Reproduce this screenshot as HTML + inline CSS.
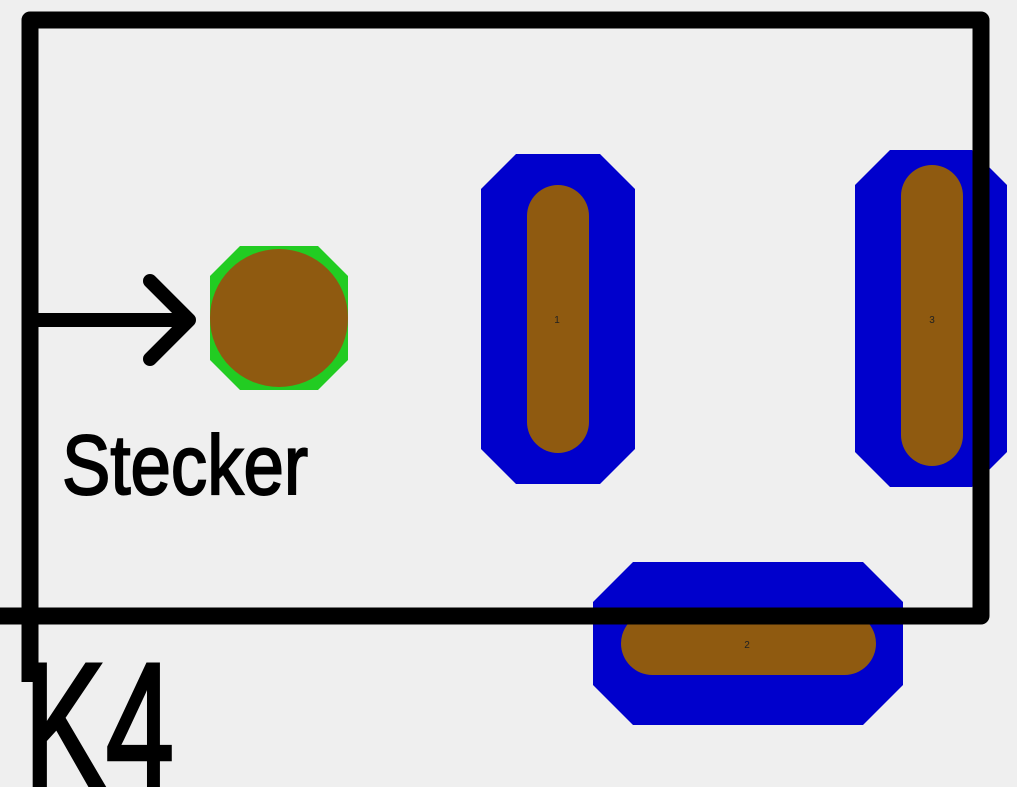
<!DOCTYPE html>
<html><head><style>
html,body{margin:0;padding:0;background:#efefef;}
svg{display:block}
</style></head><body>
<svg width="1017" height="787" viewBox="0 0 1017 787" xmlns="http://www.w3.org/2000/svg">
<rect width="1017" height="787" fill="#efefef"/>
<!-- pad 1 -->
<polygon points="516,154 600,154 635,189 635,449 600,484 516,484 481,449 481,189" fill="#0000cc"/>
<rect x="527" y="185" width="62" height="268" rx="31" fill="#8f5a10"/>
<text x="557" y="323" font-family="Liberation Sans, sans-serif" font-size="10" text-anchor="middle" fill="#222">1</text>
<!-- pad 3 -->
<polygon points="890,150 972,150 1007,185 1007,452 972,487 890,487 855,452 855,185" fill="#0000cc"/>
<rect x="901" y="165" width="62" height="301" rx="31" fill="#8f5a10"/>
<text x="932" y="323" font-family="Liberation Sans, sans-serif" font-size="10" text-anchor="middle" fill="#222">3</text>
<!-- pad 2 -->
<polygon points="633,562 863,562 903,602 903,685 863,725 633,725 593,685 593,602" fill="#0000cc"/>
<rect x="621" y="612" width="255" height="63" rx="31.5" fill="#8f5a10"/>
<text x="747" y="648" font-family="Liberation Sans, sans-serif" font-size="10" text-anchor="middle" fill="#222">2</text>
<!-- green circle pad -->
<polygon points="240,246 318,246 348,276 348,360 318,390 240,390 210,360 210,276" fill="#22cc22"/>
<circle cx="279" cy="318" r="69" fill="#8f5a10"/>
<!-- frame -->
<path d="M30,682 L30,20 L981,20 L981,616 L0,616" fill="none" stroke="#000" stroke-width="17" stroke-linejoin="round"/>
<!-- arrow -->
<line x1="30" y1="320" x2="190" y2="320" stroke="#000" stroke-width="14"/>
<polyline points="150,281 189,320 150,359" fill="none" stroke="#000" stroke-width="14" stroke-linecap="round" stroke-linejoin="round"/>
<text x="62" y="494" font-family="Liberation Sans, sans-serif" font-size="84" fill="#000" stroke="#000" stroke-width="2" textLength="246" lengthAdjust="spacingAndGlyphs">Stecker</text>
<text x="24" y="787" font-family="Liberation Sans, sans-serif" font-size="178" fill="#000" stroke="#000" stroke-width="4" textLength="150" lengthAdjust="spacingAndGlyphs">K4</text>
</svg>
</body></html>
